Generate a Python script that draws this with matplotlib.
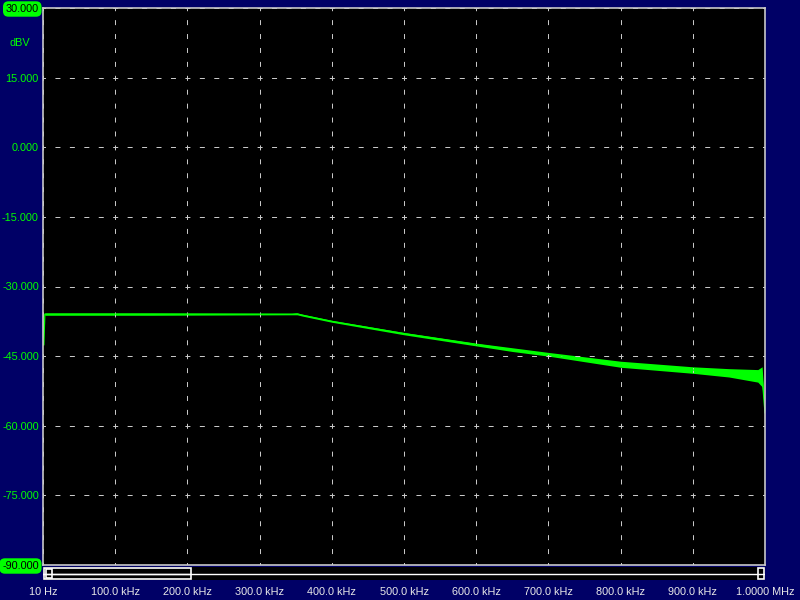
import numpy as np
import matplotlib.pyplot as plt
from matplotlib.patches import Rectangle

plt.rcParams['lines.scale_dashes'] = False
plt.rcParams['font.family'] = ['Liberation Sans', 'DejaVu Sans']

# spectrum trace (frequency in kHz, envelope in dBV)
freq_khz = [0.01, 1.2, 2.5, 150, 345, 352, 360, 400, 500, 600, 650, 700, 800, 900, 950, 990, 996, 1000]
upper_dbv = [-36.0, -42.6, -35.7, -35.7, -35.8, -35.7, -36.0, -37.3, -39.9, -42.2, -43.2, -44.2, -46.1, -47.3, -47.7, -47.9, -47.3, -57.2]
lower_dbv = [-36.0, -42.6, -36.2, -36.2, -36.1, -36.1, -36.4, -37.7, -40.4, -42.8, -44.0, -45.0, -47.4, -48.7, -49.5, -50.6, -51.6, -57.2]

x_ticks = [0.01, 100, 200, 300, 400, 500, 600, 700, 800, 900, 1000]
x_labels = ['10 Hz', '100.0 kHz', '200.0 kHz', '300.0 kHz', '400.0 kHz', '500.0 kHz',
            '600.0 kHz', '700.0 kHz', '800.0 kHz', '900.0 kHz', '1.0000 MHz']
y_ticks = [30, 15, 0, -15, -30, -45, -60, -75, -90]
y_labels = ['30.000', '15.000', '0.000', '-15.000', '-30.000', '-45.000', '-60.000', '-75.000', '-90.000']

navy = '#000066'
green = '#00ff00'
px = 0.72  # points per pixel at 100 dpi
fs = 7.8

fig = plt.figure(figsize=(8, 6), dpi=100, facecolor=navy)
ax = fig.add_axes([43/800, 1 - 565/600, 722/800, 557/600], facecolor='black')

ax.fill_between(freq_khz, lower_dbv, upper_dbv, color=green, lw=0)
ax.plot(freq_khz, np.mean([upper_dbv, lower_dbv], axis=0), color=green, lw=0.9)

ax.set_xlim(0, 1000)
ax.set_ylim(-90, 30)

# dashed grid, dash centred on each crossing -> "+" marks
hp = 72.2 / 5
vp = 69.6 / 5
ax.set_xticks(x_ticks)
ax.set_yticks(y_ticks)
ax.grid(axis='x', color='#c8c8c8', lw=1 * px,
        linestyle=(2.5 * px, (5 * px, (vp - 5) * px)))
ax.grid(axis='y', color='#c8c8c8', lw=1 * px,
        linestyle=(2.5 * px, (5 * px, (hp - 5) * px)))

ax.set_xticklabels(x_labels, color='#e8e8e8', fontsize=fs)
ax.set_yticklabels(y_labels, color=green, fontsize=fs)
ax.tick_params(axis='both', length=0)
ax.tick_params(axis='x', pad=16)
ax.tick_params(axis='y', pad=3)

for i in (0, -1):
    lab = ax.get_yticklabels()[i]
    lab.set_color('black')
    lab.set_bbox(dict(boxstyle='round,pad=0.25,rounding_size=0.5', fc=green, ec='none'))

for s in ax.spines.values():
    s.set_color('#c8c8c8')
    s.set_linewidth(1.2)

fig.text(20/800, 1 - 43/600, 'dBV', color=green, fontsize=fs, ha='center', va='center')

# scroll bar under the plot
sb = fig.add_axes([43/800, 1 - 580/600, 722/800, 13/600], facecolor='black')
sb.set_xlim(0, 1)
sb.set_ylim(0, 1)
sb.axis('off')
sb.add_patch(Rectangle((0, 0), 1, 1, fc='black', ec='none'))
sb.plot([0, 1], [0.5, 0.5], color='white', lw=1.0)
sb.add_patch(Rectangle((0.002, 0.08), (190 - 43) / 722, 0.84, fc='black', ec='white', lw=1.2))
sb.plot([0, (190 - 43) / 722], [0.5, 0.5], color='white', lw=1.0)
sb.add_patch(Rectangle((0.004, 0.12), 6 / 722, 0.76, fc='black', ec='white', lw=1.2))
sb.add_patch(Rectangle((1 - 7 / 722, 0.08), 6 / 722, 0.84, fc='black', ec='white', lw=1.2))

fig.savefig('out.png', dpi=100, facecolor=navy)
